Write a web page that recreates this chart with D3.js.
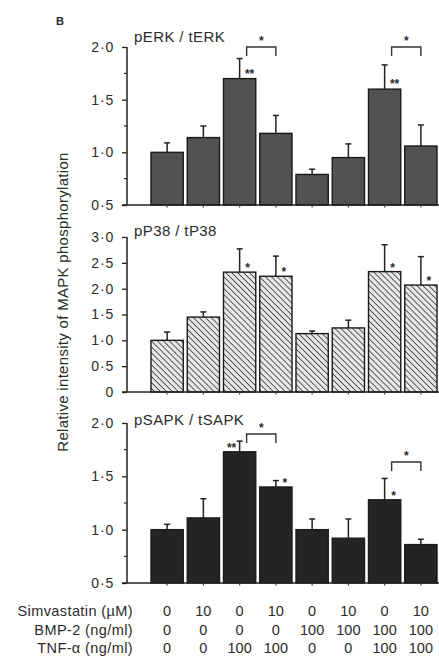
<!DOCTYPE html>
<html>
<head>
<meta charset="utf-8">
<script src="https://cdn.jsdelivr.net/npm/d3@7"></script>
<style>
  body { margin: 0; background: #fff; }
  svg text { font-family: "Liberation Sans", Arial, sans-serif; fill: #2b2b2b; }
</style>
</head>
<body>
<div id="chart"></div>
<script>
// conditions (one per bar, left to right)
var simvastatin = ["0", "10", "0", "10", "0", "10", "0", "10"];
var bmp2 = ["0", "0", "0", "0", "100", "100", "100", "100"];
var tnfa = ["0", "0", "100", "100", "0", "0", "100", "100"];
var rowLabels = ["Simvastatin (\u00b5M)", "BMP-2 (ng/ml)", "TNF-\u03b1 (ng/ml)"];

// pERK / tERK
var erkMean = [1.00, 1.14, 1.70, 1.18, 0.79, 0.95, 1.60, 1.06];
var erkErr  = [0.09, 0.11, 0.19, 0.17, 0.05, 0.13, 0.23, 0.20];
var erkMarks = ["", "", "**", "", "", "", "**", ""];
var erkBrackets = [[2, 3], [6, 7]];
var erkTicks = [0.5, 1.0, 1.5, 2.0];

// pP38 / tP38
var p38Mean = [1.00, 1.45, 2.32, 2.24, 1.13, 1.24, 2.33, 2.07];
var p38Err  = [0.16, 0.10, 0.45, 0.39, 0.05, 0.15, 0.52, 0.55];
var p38Marks = ["", "", "*", "*", "", "", "*", "*"];
var p38Ticks = [0, 0.5, 1.0, 1.5, 2.0, 2.5, 3.0];

// pSAPK / tSAPK
var sapkMean = [1.00, 1.11, 1.73, 1.40, 1.00, 0.92, 1.28, 0.86];
var sapkErr  = [0.05, 0.18, 0.10, 0.06, 0.10, 0.18, 0.20, 0.05];
var sapkMarks = ["", "", "**", "*", "", "", "*", ""];
var sapkBrackets = [[2, 3], [6, 7]];
var sapkTicks = [0.5, 1.0, 1.5, 2.0];

var W = 439, H = 656;
var axisX = 127;

var svg = d3.select("#chart").append("svg")
  .attr("width", W)
  .attr("height", H);

var defs = svg.append("defs");
var hatch = defs.append("pattern")
  .attr("id", "hatch")
  .attr("patternUnits", "userSpaceOnUse")
  .attr("width", 4.2)
  .attr("height", 4.2)
  .attr("patternTransform", "rotate(-45)");
hatch.append("rect").attr("width", 4.2).attr("height", 4.2).attr("fill", "#e6e6e6");
hatch.append("line")
  .attr("x1", 0).attr("y1", 0).attr("x2", 0).attr("y2", 4.2)
  .attr("stroke", "#3a3a3a").attr("stroke-width", 1.6);

var x = d3.scaleBand().domain(d3.range(8)).range([149, 439])
  .paddingInner(0.11).paddingOuter(0.055);

function fmt(d) {
  return d === 0 ? "0" : d.toFixed(1).replace(".", "\u00b7");
}

function drawPanel(opts) {
  var y = d3.scaleLinear().domain(opts.domain).range(opts.range);
  var g = svg.append("g");
  var base = opts.domain[0];

  // bars
  g.selectAll("rect.bar").data(opts.mean).enter()
    .append("rect")
      .attr("class", "bar")
      .attr("x", (d, i) => x(i))
      .attr("y", d => y(d))
      .attr("width", x.bandwidth())
      .attr("height", d => y(base) - y(d))
      .attr("fill", opts.fill)
      .attr("stroke", "#1a1a1a")
      .attr("stroke-width", 1.4);

  // error bars, upward only
  var cx = i => x(i) + x.bandwidth() / 2;
  g.selectAll("line.err").data(opts.mean).enter()
    .append("line")
      .attr("x1", (d, i) => cx(i)).attr("x2", (d, i) => cx(i))
      .attr("y1", d => y(d)).attr("y2", (d, i) => y(d + opts.err[i]))
      .attr("stroke", "#222").attr("stroke-width", 1.5);
  g.selectAll("line.cap").data(opts.mean).enter()
    .append("line")
      .attr("x1", (d, i) => cx(i) - 3).attr("x2", (d, i) => cx(i) + 3)
      .attr("y1", (d, i) => y(d + opts.err[i])).attr("y2", (d, i) => y(d + opts.err[i]))
      .attr("stroke", "#222").attr("stroke-width", 1.5);

  // y axis
  var yAxis = d3.axisLeft(y).tickValues(opts.ticks).tickFormat(fmt)
    .tickSize(5).tickPadding(8);
  var ya = g.append("g").attr("transform", "translate(" + axisX + ",0)").call(yAxis);
  ya.select(".domain").attr("d", "M0," + y(base) + "V" + y(opts.domain[1]))
    .attr("stroke", "#222").attr("stroke-width", 1.5);
  ya.selectAll(".tick line").attr("stroke", "#222").attr("stroke-width", 1.3);
  ya.selectAll(".tick text").attr("font-size", 14).style("fill", "#2b2b2b")
    .style("letter-spacing", "0.8px")
    .attr("font-family", "Liberation Sans, Arial, sans-serif");
  if (opts.minor) {
    g.selectAll("line.minor").data(opts.minor).enter()
      .append("line")
        .attr("x1", axisX - 3).attr("x2", axisX)
        .attr("y1", d => y(d)).attr("y2", d => y(d))
        .attr("stroke", "#222").attr("stroke-width", 1.2);
  }

  // x baseline with small ticks under bars
  g.append("line")
    .attr("x1", axisX - 5).attr("x2", W)
    .attr("y1", y(base)).attr("y2", y(base))
    .attr("stroke", "#222").attr("stroke-width", 1.5);
  g.selectAll("line.xt").data(d3.range(8)).enter()
    .append("line")
      .attr("x1", d => cx(d)).attr("x2", d => cx(d))
      .attr("y1", y(base)).attr("y2", y(base) + 2.5)
      .attr("stroke", "#444").attr("stroke-width", 1.2);

  // title
  g.append("text")
    .attr("x", 134).attr("y", opts.titleY)
    .attr("font-size", 15)
    .style("letter-spacing", "0.4px")
    .text(opts.title);

  // significance marks
  g.selectAll("text.mark").data(opts.marks).enter()
    .append("text")
      .attr("x", (d, i) => cx(i) + opts.markDx[i])
      .attr("y", (d, i) => y(opts.mean[i]) + opts.markDy)
      .attr("font-size", 12)
      .attr("font-weight", "bold")
      .attr("text-anchor", "middle")
      .text(d => d);

  // brackets between pairs
  (opts.brackets || []).forEach(function(b, k) {
    var by = opts.bracketY[k];
    var x1 = cx(b[0]) + 7, x2 = cx(b[1]);
    g.append("path")
      .attr("d", "M" + x1 + "," + (by + 9) + "V" + by + "H" + x2 + "V" + (by + 9))
      .attr("fill", "none").attr("stroke", "#333").attr("stroke-width", 1.4);
    g.append("text")
      .attr("x", (x1 + x2) / 2).attr("y", by - 2)
      .attr("text-anchor", "middle")
      .attr("font-size", 12).attr("font-weight", "bold")
      .text("*");
  });
}

drawPanel({
  title: "pERK / tERK", titleY: 42,
  domain: [0.5, 2.0], range: [205, 47],
  ticks: erkTicks, minor: [0.75, 1.25, 1.75],
  mean: erkMean, err: erkErr, marks: erkMarks,
  markDx: [0, 0, 10, 0, 0, 0, 10, 0], markDy: -1,
  brackets: erkBrackets, bracketY: [47, 47],
  fill: "#525252"
});

drawPanel({
  title: "pP38 / tP38", titleY: 236,
  domain: [0, 3.0], range: [392, 237],
  ticks: p38Ticks,
  mean: p38Mean, err: p38Err, marks: p38Marks,
  markDx: [0, 0, 8, 8, 0, 0, 8, 8], markDy: 0,
  fill: "url(#hatch)"
});

drawPanel({
  title: "pSAPK / tSAPK", titleY: 425,
  domain: [0.5, 2.0], range: [583, 423],
  ticks: sapkTicks, minor: [0.75, 1.25, 1.75],
  mean: sapkMean, err: sapkErr, marks: sapkMarks,
  markDx: [0, 0, -8, 9, 0, 0, 9, 0], markDy: 0,
  brackets: sapkBrackets, bracketY: [434, 462],
  fill: "#242424"
});

// panel letter
svg.append("text")
  .attr("x", 56).attr("y", 25)
  .attr("font-size", 11).attr("font-weight", "bold")
  .text("B");

// y label
svg.append("text")
  .attr("transform", "translate(68,302) rotate(-90)")
  .attr("text-anchor", "middle")
  .attr("font-size", 15)
  .style("letter-spacing", "0.3px")
  .text("Relative intensity of MAPK phosphorylation");

// condition table
var rows = [simvastatin, bmp2, tnfa];
var rowY = [616, 635, 653];
rows.forEach(function(r, k) {
  svg.append("text")
    .attr("x", 133).attr("y", rowY[k])
    .attr("text-anchor", "end")
    .attr("font-size", 14.5)
    .style("letter-spacing", "0.4px")
    .text(rowLabels[k]);
  svg.selectAll("text.row" + k).data(r).enter()
    .append("text")
      .attr("class", "row" + k)
      .attr("x", (d, i) => x(i) + x.bandwidth() / 2)
      .attr("y", rowY[k])
      .attr("text-anchor", "middle")
      .attr("font-size", 14.5)
      .text(d => d);
});
</script>
</body>
</html>
